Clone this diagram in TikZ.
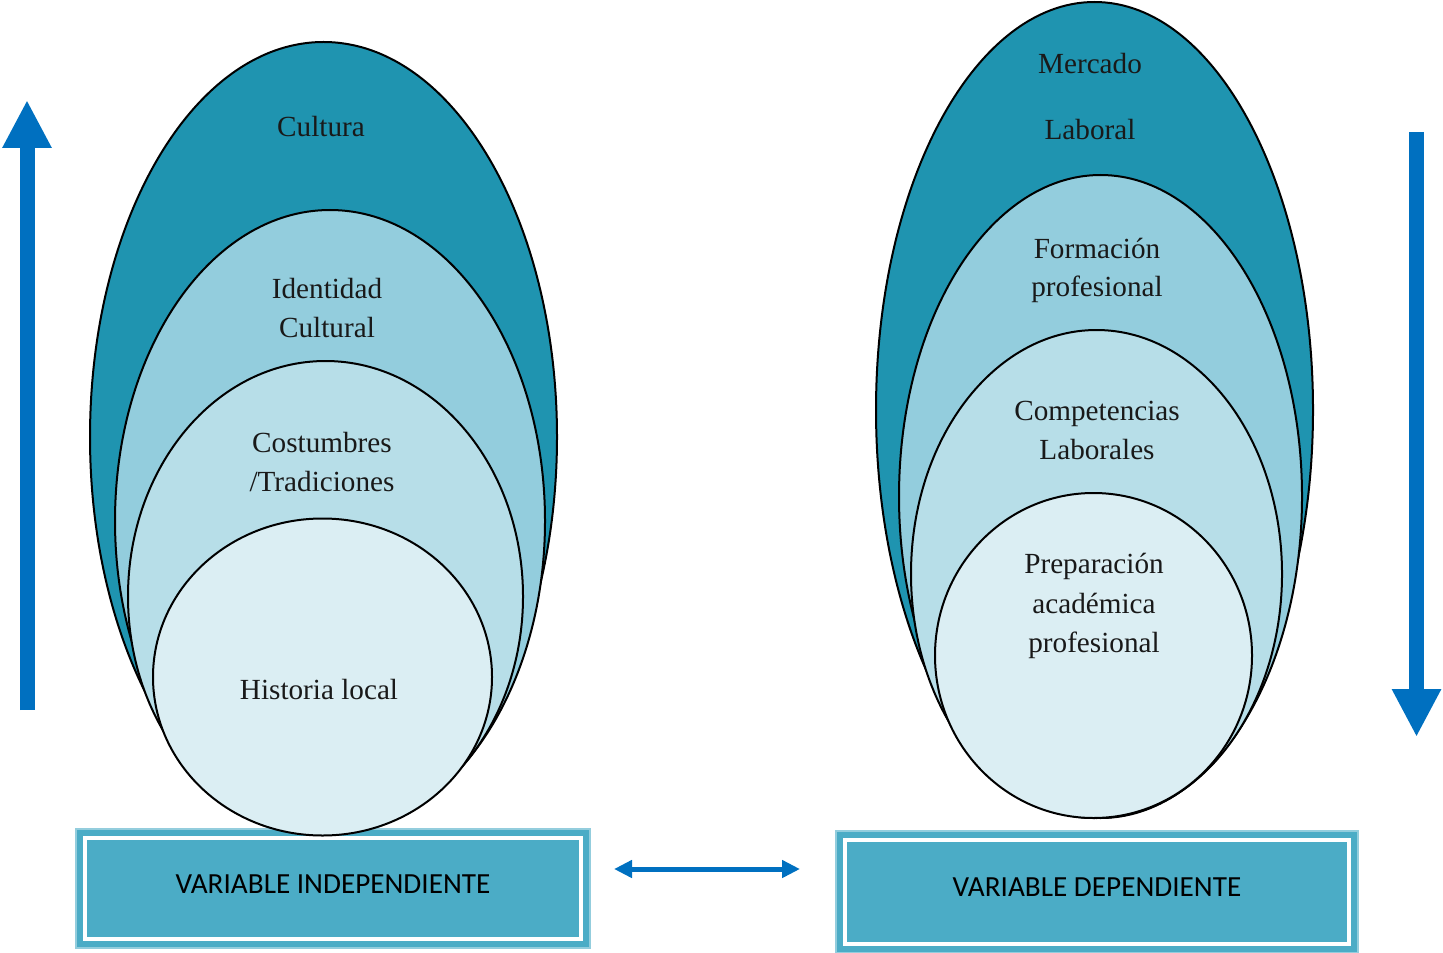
\documentclass[tikz,border=0pt]{standalone}
\usepackage{fontspec}
\setmainfont{Liberation Serif}
\newfontfamily\calibrifont{Carlito}
\usetikzlibrary{shapes.geometric,arrows.meta}
\definecolor{tealA}{HTML}{1F94B0}
\definecolor{tealB}{HTML}{93CDDD}
\definecolor{tealC}{HTML}{B7DEE8}
\definecolor{tealD}{HTML}{DBEEF3}
\definecolor{boxc}{HTML}{4BACC6}
\definecolor{arrowc}{HTML}{0070C0}
\tikzset{
  egg/.style={ellipse, draw=black, line width=1pt, inner sep=0pt, outer sep=0pt},
  lbl/.style={anchor=base, inner sep=0pt, font=\fontsize{14.6}{17}\selectfont, text=black!90},
  varbox/.style={rectangle, fill=boxc, draw=boxc!60!white, line width=0.6pt, inner sep=0pt,
     font=\calibrifont\fontsize{14.6}{17}\selectfont, text=black},
  bigarrow/.style={draw=arrowc, line width=7.5pt, -{Triangle[width=23pt,length=24pt]}},
  linkarrow/.style={draw=arrowc, line width=2.5pt, {Triangle[width=8.5pt,length=9pt]}-{Triangle[width=8.5pt,length=9pt]}}
}
\begin{document}
\begin{tikzpicture}[x=0.5pt,y=-0.5pt]
\useasboundingbox (0,0) rectangle (1443,952);
% boxes (behind the circles)
\node[varbox, minimum width=257pt, minimum height=59.5pt] (b1) at (333,888.5) {};
\draw[white, line width=2pt] ([shift={(5pt,-5pt)}]b1.north west) rectangle ([shift={(-5pt,5pt)}]b1.south east);
\node[font=\calibrifont\fontsize{14.6}{17}\selectfont, inner sep=0pt] (b1t) at (333,884) {VARIABLE INDEPENDIENTE};
\node[varbox, minimum width=261pt, minimum height=61pt] (b2) at (1097,892) {};
\draw[white, line width=2pt] ([shift={(5pt,-5pt)}]b2.north west) rectangle ([shift={(-5pt,5pt)}]b2.south east);
\node[font=\calibrifont\fontsize{14.6}{17}\selectfont, inner sep=0pt] (b2t) at (1097,887) {VARIABLE DEPENDIENTE};
% left stack
\node[egg, fill=tealA, minimum width=233.5pt, minimum height=395pt] (e1) at (323.5,437) {};
\node[egg, fill=tealB, minimum width=215pt, minimum height=311pt] (e2) at (330,521) {};
\node[egg, fill=tealC, minimum width=197.5pt, minimum height=235.5pt] (e3) at (325.5,596.5) {};
\node[egg, fill=tealD, minimum width=169.5pt, minimum height=158.5pt] (e4) at (322.5,677) {};
\node[lbl] (t1) at (321,137) {Cultura};
\node[lbl] (t2a) at (327,298) {Identidad};
\node[lbl] (t2b) at (327,337) {Cultural};
\node[lbl] (t3a) at (322,452) {Costumbres};
\node[lbl] (t3b) at (322,491) {/Tradiciones};
\node[lbl] (t4) at (319,699) {Historia local};
% right stack
\node[egg, fill=tealA, minimum width=218.5pt, minimum height=408pt] (f1) at (1094.5,410) {};
\node[egg, fill=tealB, minimum width=201.5pt, minimum height=321.5pt] (f2) at (1100.5,496.5) {};
\node[egg, fill=tealC, minimum width=185.5pt, minimum height=244pt] (f3) at (1096.5,574) {};
\node[egg, fill=tealD, minimum width=158.5pt, minimum height=162.5pt] (f4) at (1093.5,655.5) {};
\node[lbl] (s1a) at (1090,74) {Mercado};
\node[lbl] (s1b) at (1090,140) {Laboral};
\node[lbl] (s2a) at (1097,258) {Formación};
\node[lbl] (s2b) at (1097,296) {profesional};
\node[lbl] (s3a) at (1097,420) {Competencias};
\node[lbl] (s3b) at (1097,459) {Laborales};
\node[lbl] (s4a) at (1094,573) {Preparación};
\node[lbl] (s4b) at (1094,613) {académica};
\node[lbl] (s4c) at (1094,652) {profesional};
% arrows
\coordinate (upS) at (27,710);
\coordinate (upE) at (27,100);
\coordinate (dnS) at (1416.5,132);
\coordinate (dnE) at (1416.5,737);
\coordinate (h1) at (614,869);
\coordinate (h2) at (800,869);
\draw[bigarrow] (upS) -- (upE);
\draw[bigarrow] (dnS) -- (dnE);
\draw[linkarrow] (h1) -- (h2);
\end{tikzpicture}
\end{document}
